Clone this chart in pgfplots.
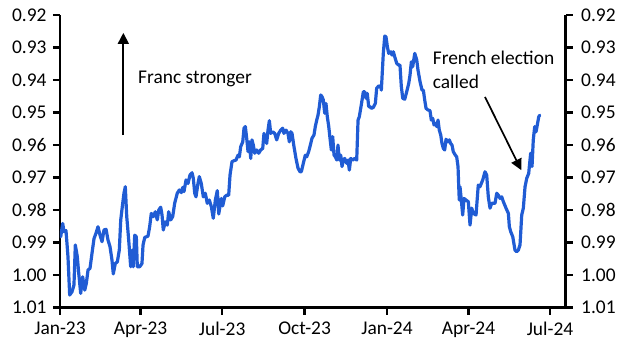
\documentclass[border=0pt]{standalone}
\usepackage{fontspec}
\setmainfont{Carlito}
\usepackage{pgfplots}
\usepackage{pgfplotstable}
\pgfplotsset{compat=1.18}
\usetikzlibrary{arrows.meta}
\definecolor{ceblue}{RGB}{32,92,212}
\pgfplotstableread{
day val
0.8 0.9882
3.0 0.9841
4.5 0.9866
6.7 0.9863
8.9 0.9943
10.8 1.0061
13.4 1.0051
15.6 1.0030
17.1 0.9907
19.3 0.9943
20.9 0.9994
23.1 1.0056
25.3 1.0005
27.6 1.0046
29.4 1.0025
31.3 0.9984
33.5 0.9979
35.7 0.9933
38.0 0.9887
40.2 0.9871
42.4 0.9851
44.7 0.9877
46.9 0.9897
49.1 0.9861
51.4 0.9859
53.6 0.9892
55.8 0.9912
58.0 0.9953
59.5 0.9996
61.7 0.9964
64.0 0.9959
66.2 0.9923
67.8 0.9830
70.0 0.9779
71.4 0.9748
72.9 0.9728
74.5 0.9820
76.7 0.9892
78.9 0.9974
80.4 0.9923
81.8 0.9974
83.4 0.9877
85.2 0.9882
86.3 0.9974
89.0 0.9974
91.5 0.9964
92.7 0.9907
94.6 0.9884
98.2 0.9880
100.1 0.9851
101.9 0.9810
104.2 0.9820
106.4 0.9805
108.6 0.9830
110.2 0.9800
112.4 0.9791
113.9 0.9815
115.3 0.9861
117.5 0.9836
119.8 0.9846
121.3 0.9805
123.6 0.9830
125.8 0.9820
128.0 0.9779
130.9 0.9748
133.2 0.9738
135.4 0.9746
137.0 0.9730
138.4 0.9743
140.7 0.9707
142.9 0.9718
145.1 0.9692
147.4 0.9685
148.8 0.9702
150.4 0.9748
151.8 0.9759
154.0 0.9718
155.5 0.9697
157.7 0.9718
160.0 0.9759
162.2 0.9748
164.4 0.9779
166.7 0.9769
168.9 0.9789
171.1 0.9825
173.4 0.9769
175.6 0.9740
177.2 0.9812
180.1 0.9764
181.6 0.9787
183.9 0.9759
186.1 0.9754
188.3 0.9754
189.8 0.9692
192.0 0.9651
194.2 0.9648
196.5 0.9646
198.7 0.9631
200.2 0.9636
201.7 0.9605
204.0 0.9590
205.4 0.9548
206.9 0.9543
208.4 0.9579
209.9 0.9620
211.3 0.9590
212.9 0.9641
214.3 0.9584
215.8 0.9600
217.3 0.9625
219.6 0.9615
221.8 0.9625
224.0 0.9615
226.3 0.9610
227.7 0.9564
229.2 0.9579
230.7 0.9595
232.2 0.9554
233.7 0.9525
235.2 0.9564
237.4 0.9559
239.7 0.9564
241.9 0.9584
244.1 0.9564
246.4 0.9554
248.6 0.9548
250.0 0.9564
252.3 0.9554
254.5 0.9564
256.0 0.9590
257.5 0.9559
259.0 0.9564
261.2 0.9605
263.4 0.9641
265.7 0.9671
267.9 0.9682
269.4 0.9682
271.6 0.9656
273.8 0.9631
275.4 0.9636
277.6 0.9620
279.9 0.9595
281.3 0.9579
283.5 0.9569
285.0 0.9543
286.6 0.9523
288.0 0.9508
289.5 0.9482
291.0 0.9446
292.5 0.9451
293.9 0.9461
295.5 0.9502
296.9 0.9472
298.4 0.9513
300.0 0.9543
301.4 0.9579
302.9 0.9615
304.4 0.9574
305.9 0.9631
307.4 0.9636
309.0 0.9646
310.3 0.9600
311.8 0.9646
313.4 0.9631
314.8 0.9666
316.3 0.9646
317.8 0.9641
320.0 0.9656
321.5 0.9646
323.0 0.9677
324.5 0.9641
326.8 0.9646
329.0 0.9641
331.2 0.9646
332.7 0.9523
334.1 0.9513
336.3 0.9477
338.6 0.9436
340.1 0.9436
341.6 0.9456
343.0 0.9441
344.6 0.9482
346.1 0.9482
347.5 0.9487
349.7 0.9484
352.0 0.9472
353.5 0.9425
355.8 0.9418
358.0 0.9420
358.7 0.9431
360.9 0.9318
362.5 0.9265
363.9 0.9267
365.4 0.9297
366.9 0.9318
369.2 0.9313
370.6 0.9323
372.1 0.9313
373.6 0.9328
375.9 0.9349
378.1 0.9354
379.5 0.9354
381.0 0.9420
382.6 0.9456
384.8 0.9459
387.0 0.9436
389.3 0.9410
390.7 0.9385
392.2 0.9344
393.7 0.9359
396.0 0.9318
398.2 0.9338
399.6 0.9369
401.9 0.9405
404.1 0.9431
405.6 0.9431
407.1 0.9461
408.6 0.9487
410.8 0.9492
413.0 0.9494
414.5 0.9523
416.1 0.9518
417.5 0.9538
419.0 0.9533
420.5 0.9543
422.0 0.9523
423.4 0.9554
425.0 0.9569
426.4 0.9595
427.9 0.9610
429.4 0.9615
430.9 0.9582
433.1 0.9590
434.6 0.9584
436.1 0.9595
437.6 0.9600
439.0 0.9620
441.3 0.9631
442.8 0.9636
444.3 0.9666
445.1 0.9728
445.7 0.9769
446.5 0.9728
448.0 0.9769
449.5 0.9815
451.0 0.9764
453.2 0.9769
455.8 0.9774
457.7 0.9846
459.6 0.9794
461.4 0.9810
464.4 0.9815
466.9 0.9723
468.8 0.9728
471.9 0.9707
474.4 0.9682
476.3 0.9692
478.1 0.9759
480.0 0.9794
481.9 0.9779
483.7 0.9779
485.6 0.9779
487.5 0.9748
489.3 0.9754
491.2 0.9764
493.1 0.9759
494.9 0.9774
497.9 0.9794
500.5 0.9810
501.6 0.9851
503.1 0.9866
505.4 0.9882
507.9 0.9923
509.8 0.9928
511.6 0.9923
513.5 0.9907
515.4 0.9815
517.2 0.9794
519.1 0.9728
521.0 0.9702
523.2 0.9687
523.9 0.9666
525.4 0.9625
526.9 0.9666
528.3 0.9584
529.9 0.9543
531.4 0.9559
532.8 0.9538
534.4 0.9513
535.5 0.9508
}\ratetable

\newcommand{\lblfont}{\fontsize{19.5}{23}\selectfont}

\begin{document}
\begin{tikzpicture}
\pgfplotsset{
  common/.style={
    scale only axis,
    width=505.7bp, height=292.7bp,
    xmin=0, xmax=564.5,
    ymin=0.92, ymax=1.01,
    y dir=reverse,
    ytick={0.92,0.93,0.94,0.95,0.96,0.97,0.98,0.99,1.00,1.01},
    scaled y ticks=false,
    /pgf/number format/fixed,
    /pgf/number format/fixed zerofill,
    /pgf/number format/precision=2,
    /pgf/number format/assume math mode=true,
    tick align=outside,
    major tick length=7bp,
    tick style={line width=2.6bp, black},
    axis line style={line width=2.8bp, black},
    tick label style={font=\lblfont, black},
  }
}
\begin{axis}[common, name=main,
  axis x line*=bottom, axis y line*=left,
  xtick={0,90,181,273,365,456,547},
  xticklabels={Jan-23,Apr-23,Jul-23,Oct-23,Jan-24,Apr-24,Jul-24},
  xticklabel style={yshift=-4bp},
  yticklabel style={xshift=-3bp},
]
\addplot[color=ceblue, line width=3.2bp, line join=round, line cap=round, no markers] table[x=day, y=val] {\ratetable};
\draw[line width=1.7bp, -{Triangle[length=11bp, width=11bp]}] (axis cs:70.7,0.9569) -- (axis cs:70.7,0.9255);
\node[anchor=base west, inner sep=0pt, font=\lblfont] at (axis cs:87.1,0.9410) {Franc stronger};
\node[anchor=base west, inner sep=0pt, font=\lblfont] at (axis cs:416.0,0.9351) {French election};
\node[anchor=base west, inner sep=0pt, font=\lblfont] at (axis cs:416.0,0.9425) {called};
\draw[line width=1.7bp, -{Triangle[length=11bp, width=11bp]}] (axis cs:474.4,0.9452) -- (axis cs:514.9,0.9677);
\end{axis}
\begin{axis}[common,
  axis x line=none, axis y line*=right,
  yticklabel style={xshift=5bp},
]
\end{axis}
\pgfresetboundingbox
\path (main.south west) ++(-60bp,-47.3bp) rectangle ++(630bp,355bp);
\end{tikzpicture}
\end{document}
